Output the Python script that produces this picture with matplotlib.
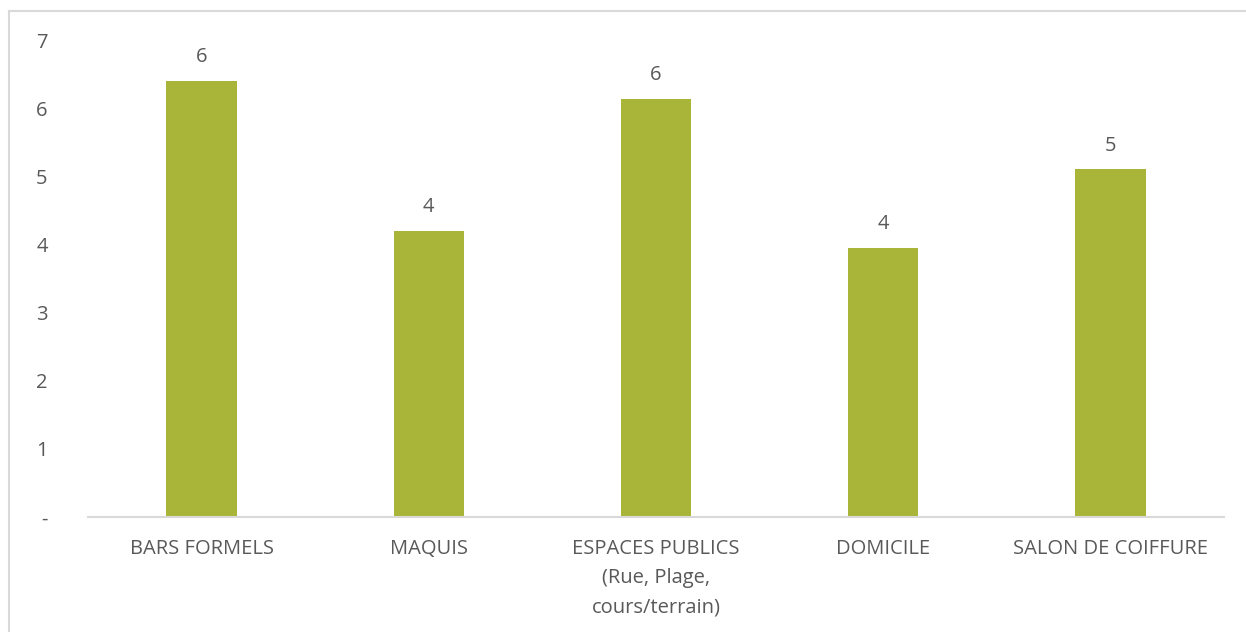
import numpy as np
import matplotlib.pyplot as plt
from matplotlib.lines import Line2D

# Données
categories = ["BARS FORMELS", "MAQUIS", "ESPACES PUBLICS\n(Rue, Plage,\ncours/terrain)",
              "DOMICILE", "SALON DE COIFFURE"]
valeurs = [6.40, 4.20, 6.14, 3.95, 5.10]
yticks = [0, 1, 2, 3, 4, 5, 6, 7]
ytick_labels = ["-", "1", "2", "3", "4", "5", "6", "7"]

plt.rcParams['font.family'] = ['Open Sans', 'DejaVu Sans']
gris = '#595959'
taille = 14.5

fig = plt.figure(figsize=(12.46, 6.32), dpi=100)
ax = fig.add_axes([88 / 1246, 1 - 517 / 632, (1224 - 88) / 1246, 477 / 632])

x = np.arange(len(categories))
barres = ax.bar(x, valeurs, width=0.31, color='#A8B539')

# Étiquettes de valeurs arrondies au-dessus des barres
for xi, v in zip(x, valeurs):
    ax.annotate(f"{v:.0f}", (xi, v), xytext=(0, 10), textcoords='offset points',
                ha='center', va='bottom', fontsize=taille, color=gris)

ax.set_xlim(-0.5, len(categories) - 0.5)
ax.set_ylim(0, 7)
ax.set_yticks(yticks)
ax.set_yticklabels(ytick_labels, fontsize=taille, color=gris)
ax.set_xticks(x)
ax.set_xticklabels(categories, fontsize=taille, color=gris, linespacing=1.6)
ax.tick_params(axis='both', length=0)
ax.tick_params(axis='y', pad=29)
ax.tick_params(axis='x', pad=16)
for s in ['top', 'right', 'left']:
    ax.spines[s].set_visible(False)
ax.spines['bottom'].set_color('#D9D9D9')
ax.spines['bottom'].set_linewidth(1.5)

# Cadre du graphique (haut et gauche visibles)
fig.add_artist(Line2D([9 / 1246, 9 / 1246], [0, 1 - 11 / 632], color='#D9D9D9', lw=1.5))
fig.add_artist(Line2D([9 / 1246, 1], [1 - 11 / 632, 1 - 11 / 632], color='#D9D9D9', lw=1.5))

fig.savefig('out.png', dpi=100)
